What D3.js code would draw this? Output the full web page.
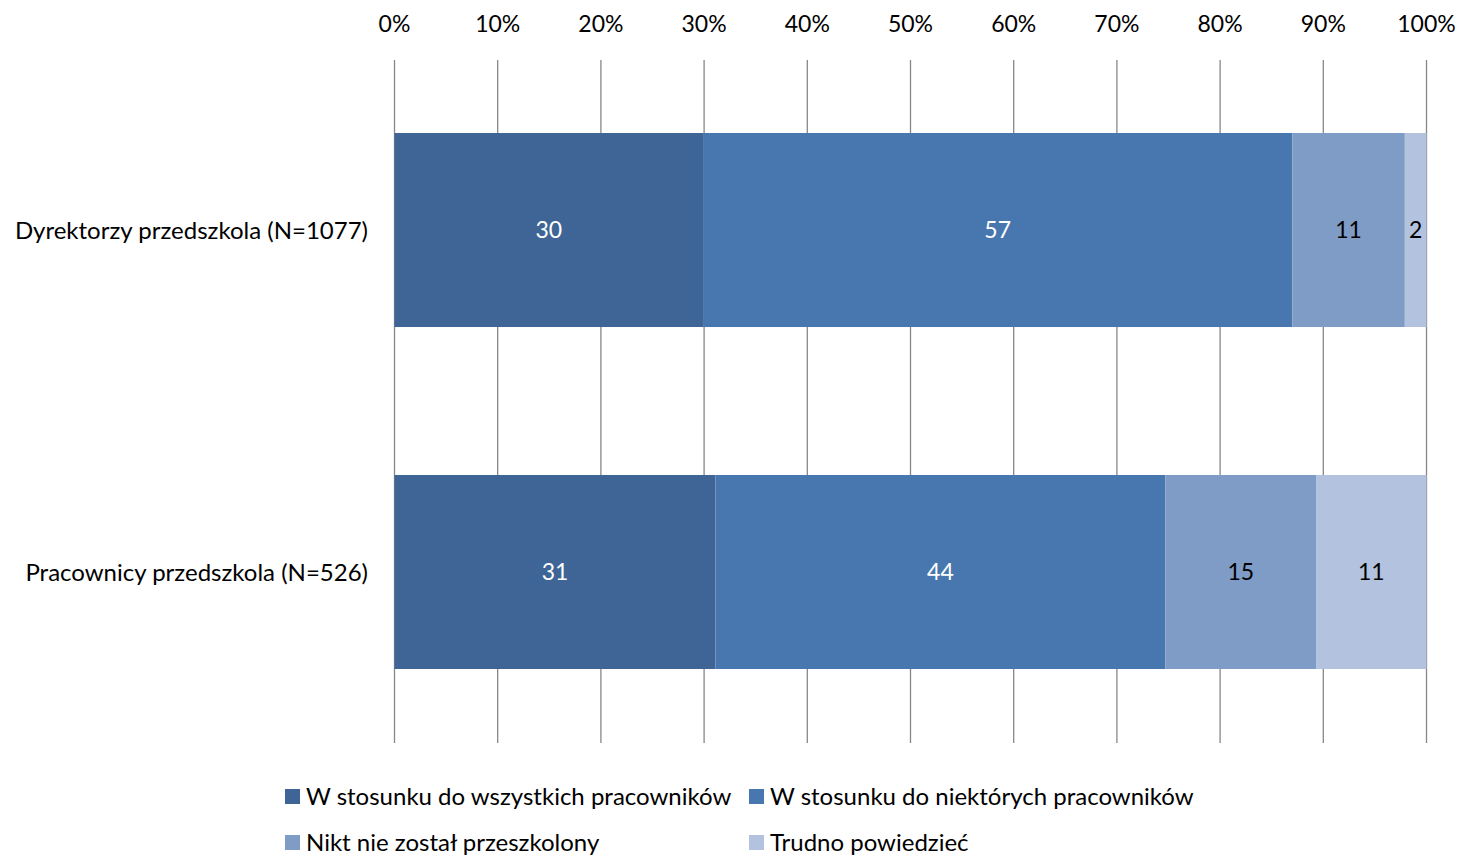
<!DOCTYPE html>
<html><head><meta charset="utf-8">
<script src="https://cdn.jsdelivr.net/npm/d3@7"></script>
<style>body{margin:0;background:#fff}svg{display:block}text{font-family:Lato,"Open Sans",sans-serif}</style>
</head><body><svg id="c" width="1458" height="857"></svg>
<script>
const categories = ["Dyrektorzy przedszkola (N=1077)", "Pracownicy przedszkola (N=526)"];
const seriesNames = ["W stosunku do wszystkich pracowników", "W stosunku do niektórych pracowników", "Nikt nie został przeszkolony", "Trudno powiedzieć"];
const seriesColors = ["#3e6595", "#4877af", "#7f9cc7", "#b3c3df"];
const labelColors = ["#fff", "#fff", "#000", "#000"];
// segment shares (%) as drawn
const dyrektorzy = [29.9, 57.1, 10.9, 2.1];
const pracownicy = [31.1, 43.6, 14.6, 10.7];
// displayed labels
const dyrektorzyLabels = [30, 57, 11, 2];
const pracownicyLabels = [31, 44, 15, 11];
const tickValues = [0, 10, 20, 30, 40, 50, 60, 70, 80, 90, 100];

const values = [dyrektorzy, pracownicy];
const labels = [dyrektorzyLabels, pracownicyLabels];

const svg = d3.select("#c");
const x = d3.scaleLinear().domain([0, 100]).range([394.5, 1426.5]);
const y = d3.scaleBand().domain(categories).range([59, 743]).paddingInner(0.4327).paddingOuter(0.2164);

// gridlines
svg.append("g").selectAll("line").data(tickValues).join("line")
  .attr("x1", d => x(d)).attr("x2", d => x(d))
  .attr("y1", 60).attr("y2", 743)
  .attr("stroke", "#878787").attr("stroke-width", 1.3);

// tick labels
svg.append("g").selectAll("text").data(tickValues).join("text")
  .attr("x", d => x(d)).attr("y", 32)
  .attr("text-anchor", "middle").attr("font-size", 23).attr("fill", "#000")
  .text(d => d + "%");

// bars
categories.forEach((cat, ci) => {
  let acc = 0;
  const segs = values[ci].map((v, si) => { const s = {x0: acc, x1: acc + v, si, lab: labels[ci][si]}; acc += v; return s; });
  const g = svg.append("g");
  g.selectAll("rect").data(segs).join("rect")
    .attr("x", d => x(d.x0)).attr("width", d => x(d.x1) - x(d.x0))
    .attr("y", y(cat)).attr("height", y.bandwidth())
    .attr("fill", d => seriesColors[d.si]);
  g.selectAll("text").data(segs).join("text")
    .attr("x", d => (x(d.x0) + x(d.x1)) / 2)
    .attr("y", y(cat) + y.bandwidth() / 2)
    .attr("dy", "0.36em").attr("text-anchor", "middle")
    .attr("font-size", 23).attr("fill", d => labelColors[d.si])
    .text(d => d.lab);
  svg.append("text").attr("x", 368).attr("y", y(cat) + y.bandwidth() / 2)
    .attr("dy", "0.36em").attr("text-anchor", "end").attr("font-size", 24).attr("fill", "#000")
    .text(cat);
});

// legend
const legPos = [[285, 796], [749, 796], [285, 842], [749, 842]];
seriesNames.forEach((n, i) => {
  const [lx, ly] = legPos[i];
  svg.append("rect").attr("x", lx).attr("y", ly - 7).attr("width", 15).attr("height", 15).attr("fill", seriesColors[i]);
  svg.append("text").attr("x", lx + 21).attr("y", ly).attr("dy", "0.36em").attr("font-size", 24).attr("fill", "#000").text(n);
});
</script></body></html>
